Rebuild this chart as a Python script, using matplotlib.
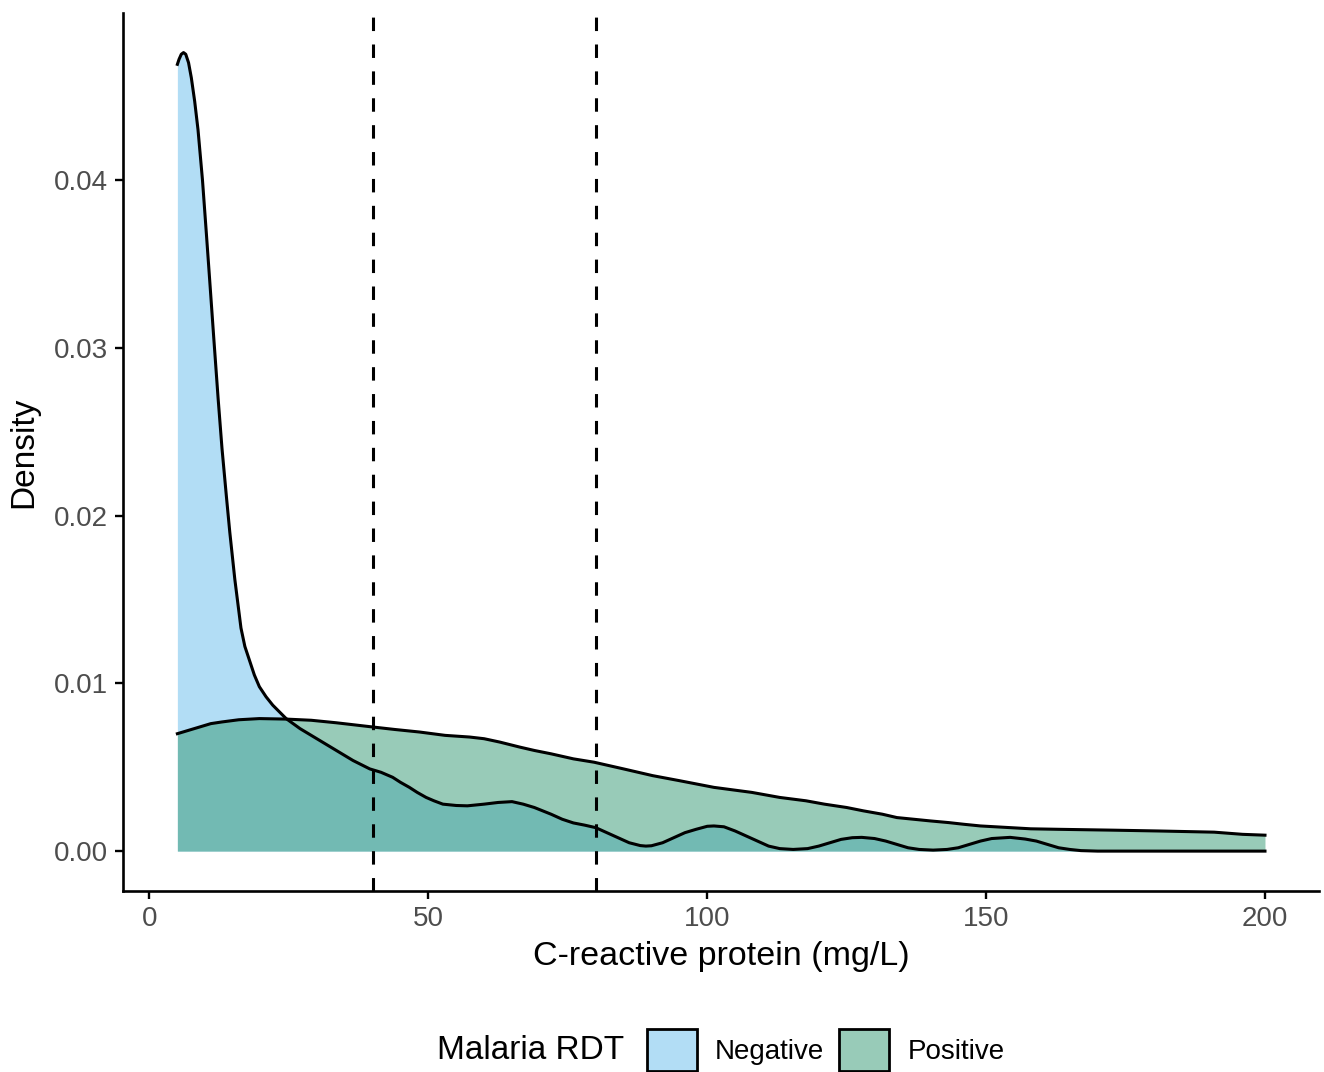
import numpy as np
import matplotlib.pyplot as plt
from matplotlib.patches import Patch
from matplotlib.colors import to_rgba

plt.rcParams['font.family'] = ['Liberation Sans', 'DejaVu Sans']

# densities (CRP in mg/L)
neg_x = [5.0, 5.3, 5.7, 6.1, 6.5, 7.0, 7.5, 8.1, 8.7, 9.5, 10.2, 10.8, 11.5, 12.3,
         13.0, 13.8, 14.4, 15.3, 16.4, 17.1, 17.9, 18.8, 19.7, 20.9, 22.1, 23.3,
         24.5, 27.0, 30.5, 33.5, 36.5, 39.5, 41.5, 43.6, 45.0, 46.6, 48.0, 49.6,
         51.0, 52.6, 55.0, 57.0, 60.0, 62.5, 65.0, 67.0, 69.0, 72.0, 74.0, 76.0,
         78.0, 80.0, 82.0, 84.0, 86.0, 88.0, 89.0, 90.0, 92.0, 94.0, 96.0, 98.0,
         100.0, 101.2, 103.0, 105.0, 107.0, 109.0, 111.0, 113.0, 115.4, 118.0,
         120.0, 122.0, 124.0, 126.0, 127.7, 130.0, 132.0, 134.0, 136.0, 138.0,
         140.5, 143.0, 145.0, 147.0, 149.0, 151.0, 154.3, 157.0, 159.0, 161.0,
         163.0, 165.0, 167.0, 170.0, 185.0, 200.0]
neg_y = [0.0469, 0.0472, 0.0475, 0.0476, 0.0475, 0.0470, 0.0461, 0.0447, 0.0430,
         0.0400, 0.0368, 0.0340, 0.0307, 0.0270, 0.0240, 0.0211, 0.0190, 0.0162,
         0.0133, 0.0122, 0.0114, 0.0105, 0.0098, 0.0092, 0.0087, 0.0083, 0.0079,
         0.0073, 0.0066, 0.0060, 0.0054, 0.0049, 0.0047, 0.0044, 0.0041, 0.0038,
         0.0035, 0.0032, 0.0030, 0.0028, 0.00272, 0.0027, 0.0028, 0.0029, 0.00295,
         0.0028, 0.0026, 0.0022, 0.0019, 0.00168, 0.00155, 0.0014, 0.0011, 0.0008,
         0.0005, 0.00033, 0.0003, 0.00032, 0.0005, 0.0008, 0.0011, 0.0013, 0.00148,
         0.0015, 0.00145, 0.0012, 0.0009, 0.0006, 0.0003, 0.00015, 0.0001, 0.00015,
         0.0003, 0.0005, 0.0007, 0.0008, 0.00082, 0.00075, 0.0006, 0.0004, 0.0002,
         0.0001, 0.00006, 0.0001, 0.0002, 0.0004, 0.0006, 0.00075, 0.00082,
         0.00072, 0.0006, 0.0004, 0.0002, 0.0001, 0.00003, 0.0, 0.0, 0.0]

pos_x = [5.0, 7.0, 9.0, 11.0, 13.0, 16.0, 19.7, 24.5, 29.0, 33.5, 40.0, 44.0,
         48.4, 53.0, 57.4, 60.0, 62.8, 66.4, 69.0, 72.0, 76.0, 79.7, 85.0, 90.2,
         95.0, 101.2, 108.0, 113.0, 117.7, 121.0, 125.0, 128.0, 131.4, 134.0,
         137.0, 140.0, 143.3, 146.0, 149.0, 154.3, 158.0, 163.0, 172.6, 181.0,
         190.9, 196.0, 200.0]
pos_y = [0.0070, 0.0072, 0.0074, 0.0076, 0.0077, 0.00783, 0.0079, 0.00787,
         0.0078, 0.00765, 0.0074, 0.00725, 0.0071, 0.0069, 0.0068, 0.0067,
         0.0065, 0.0062, 0.0060, 0.0058, 0.0055, 0.0053, 0.0049, 0.0045, 0.0042,
         0.0038, 0.0035, 0.0032, 0.0030, 0.0028, 0.0026, 0.0024, 0.0022, 0.0020,
         0.0019, 0.0018, 0.0017, 0.0016, 0.0015, 0.0014, 0.00133, 0.0013,
         0.00125, 0.0012, 0.00113, 0.0010, 0.00095]

cutoffs = [40, 80]
groups = ['Negative', 'Positive']
neg_fill = to_rgba('#56B4E9', 0.45)
pos_fill = to_rgba('#339973', 0.5)

fig = plt.figure(figsize=(13.24, 10.72), dpi=100)
ax = fig.add_axes([0.0929, 0.1688, 0.9036, 0.8194])

ax.fill_between(neg_x, neg_y, 0, color=neg_fill, lw=0)
ax.plot(neg_x, neg_y, color='black', lw=2.2, solid_joinstyle='round')
ax.fill_between(pos_x, pos_y, 0, color=pos_fill, lw=0)
ax.plot(pos_x, pos_y, color='black', lw=2.2, solid_joinstyle='round')

for c in cutoffs:
    ax.axvline(c, color='black', lw=2.2, linestyle=(0, (4.4, 4.4)))

ax.set_xlim(-4.75, 209.75)
ax.set_ylim(-0.00238, 0.04998)
ax.set_xticks([0, 50, 100, 150, 200])
ax.set_yticks([0, 0.01, 0.02, 0.03, 0.04])
ax.set_yticklabels(['0.00', '0.01', '0.02', '0.03', '0.04'])

for s in ['top', 'right']:
    ax.spines[s].set_visible(False)
for s in ['left', 'bottom']:
    ax.spines[s].set_linewidth(1.9)
ax.tick_params(length=6, width=1.7, labelsize=20, labelcolor='#4D4D4D', pad=5)

ax.set_xlabel('C-reactive protein (mg/L)', fontsize=24.5, labelpad=6)
ax.set_ylabel('Density', fontsize=24, labelpad=10)

handles = [Patch(facecolor=neg_fill, edgecolor='black', lw=2.0),
           Patch(facecolor=pos_fill, edgecolor='black', lw=2.0)]
leg = fig.legend(handles, groups, loc='center', bbox_to_anchor=(0.6235, 0.0205),
                 ncol=2, frameon=False, fontsize=20, handlelength=1.8,
                 handleheight=1.95, columnspacing=0.55, handletextpad=0.65)
fig.text(0.33, 0.0205, 'Malaria RDT', fontsize=24, ha='left', va='center')

fig.savefig('out.png', dpi=100)
